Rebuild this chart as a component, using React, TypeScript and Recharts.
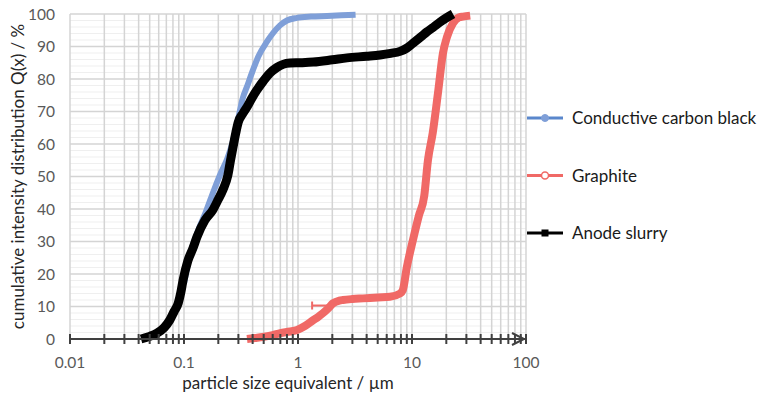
import React from 'react';
import { LineChart, Line, XAxis, YAxis, CartesianGrid, Legend } from 'recharts';

const xTicks = [
  0.01, 0.02, 0.03, 0.04, 0.05, 0.06, 0.07, 0.08, 0.09,
  0.1, 0.2, 0.3, 0.4, 0.5, 0.6, 0.7, 0.8, 0.9,
  1, 2, 3, 4, 5, 6, 7, 8, 9,
  10, 20, 30, 40, 50, 60, 70, 80, 90,
  100,
];
const yTicks = [0, 10, 20, 30, 40, 50, 60, 70, 80, 90, 100];
const yMinorTicks = [2, 4, 6, 8, 12, 14, 16, 18, 22, 24, 26, 28, 32, 34, 36, 38, 42, 44, 46, 48, 52, 54, 56, 58, 62, 64, 66, 68, 72, 74, 76, 78, 82, 84, 86, 88, 92, 94, 96, 98];

const seriesNames = ['Conductive carbon black', 'Graphite', 'Anode slurry'];

const carbonX = [0.1, 0.108, 0.12, 0.135, 0.155, 0.184, 0.21, 0.24, 0.269, 0.3, 0.324, 0.36, 0.403, 0.45, 0.534, 0.6, 0.695, 0.8, 0.98, 1.3, 1.8, 2.4, 3.2];
const carbonY = [17, 23, 29, 34, 39, 46, 51, 55.5, 61, 68, 73.5, 78, 82.8, 87, 91.5, 94, 96.5, 98, 98.8, 99.2, 99.4, 99.6, 99.8];

const graphiteX = [0.357, 0.42, 0.49, 0.6, 0.7, 0.85, 0.98, 1.15, 1.36, 1.5, 1.66, 1.85, 2.03, 2.3, 2.48, 3.0, 3.72, 5.0, 6.4, 7.86, 8.3, 9.0, 10.2, 11.5, 12.8, 13.8, 15.2, 16.9, 18.7, 20.3, 22.9, 26, 28, 32.4];
const graphiteY = [0, 0.3, 0.6, 1.2, 1.8, 2.3, 2.8, 4, 5.8, 6.8, 8, 9.5, 11, 11.8, 12, 12.3, 12.5, 12.8, 13, 14, 15, 22, 30.5, 38, 44, 55, 63.4, 75.7, 88, 93, 97.2, 99, 99.2, 99.5];

// horizontal error bar on the graphite curve
const graphiteErrX = [1.33, 1.8];
const graphiteErrY = [10.3, 10.3];

const slurryX = [0.042, 0.05, 0.058, 0.067, 0.075, 0.082, 0.089, 0.094, 0.098, 0.108, 0.12, 0.13, 0.153, 0.179, 0.2, 0.22, 0.243, 0.256, 0.269, 0.285, 0.298, 0.33, 0.357, 0.4, 0.436, 0.5, 0.567, 0.65, 0.74, 0.85, 1.04, 1.36, 2.0, 2.69, 4.0, 5.24, 6.5, 7.85, 9.0, 10.2, 12, 13.5, 15.5, 17.6, 20, 22.9];
const slurryY = [0, 0.8, 1.8, 3.5, 5.8, 8.5, 11, 14.5, 18, 24, 28, 31.4, 36.6, 39.7, 43, 46, 50.5, 55, 59, 63.5, 66.5, 69.5, 71.4, 74.5, 76.6, 79.5, 81.8, 83.5, 84.5, 84.9, 85, 85.2, 85.9, 86.5, 87, 87.4, 87.9, 88.5, 89.5, 91, 93, 94.5, 96, 97.5, 98.8, 100];

const toData = (xs: number[], ys: number[]) => xs.map((x, i) => ({ x, y: ys[i] }));
const carbonData = toData(carbonX, carbonY);
const graphiteData = toData(graphiteX, graphiteY);
const graphiteErrData = toData(graphiteErrX, graphiteErrY);
const slurryData = toData(slurryX, slurryY);

const FONT = 'Lato, "Open Sans", sans-serif';
const BLUE = '#7f9fd8';
const BLUE_LEGEND = '#5a87cc';
const RED = '#f06966';
const BLACK = '#000000';

function XTick(props: any) {
  const { x, y, payload } = props;
  const v = payload.value as number;
  const lg = Math.log10(v);
  const major = Math.abs(lg - Math.round(lg)) < 1e-6;
  const ay = y - 16;
  return (
    <g>
      <line x1={x} x2={x} y1={ay - 5} y2={ay + 5} stroke="#404040" strokeWidth={2} />
      {v === 100 && (
        <polyline points={`${x - 14},${ay - 6} ${x - 2},${ay} ${x - 14},${ay + 6}`} fill="none" stroke="#404040" strokeWidth={2} />
      )}
      {major && (
        <text x={x} y={y + 13} textAnchor="middle" fill="#595959" fontSize={15.5} fontFamily={FONT}>
          {String(v)}
        </text>
      )}
    </g>
  );
}

function ErrCap(props: any) {
  const { cx, cy, index } = props;
  if (index !== 0 || cx == null || cy == null) return <g key={`cap-${index}`} />;
  return <line key={`cap-${index}`} x1={cx} x2={cx} y1={cy - 4} y2={cy + 4} stroke={RED} strokeWidth={2} />;
}

const markerFor: Record<string, string> = {
  'Conductive carbon black': 'dot',
  Graphite: 'ring',
  'Anode slurry': 'square',
};
const legendLineColor: Record<string, string> = {
  'Conductive carbon black': BLUE_LEGEND,
  Graphite: RED,
  'Anode slurry': BLACK,
};

function renderLegend(props: any) {
  const payload = props.payload || [];
  const names = seriesNames.filter((n) => payload.length === 0 || payload.some((p: any) => String(p.value) === n));
  return (
    <svg width={236} height={160} style={{ display: 'block' }}>
      {names.map((name: string, i: number) => {
        const cy = 18 + i * 57.5;
        const m = markerFor[name];
        const lc = legendLineColor[name];
        return (
          <g key={name}>
            <line x1={0} x2={36} y1={cy} y2={cy} stroke={lc} strokeWidth={3} />
            {m === 'dot' && <circle cx={18} cy={cy} r={3.5} fill={BLUE} stroke={BLUE} />}
            {m === 'ring' && <circle cx={18} cy={cy} r={3.5} fill="#fff" stroke={RED} strokeWidth={1.5} />}
            {m === 'square' && <rect x={14.5} y={cy - 3.5} width={7} height={7} fill={BLACK} />}
            <text x={45} y={cy + 6} fontSize={17} fill="#1a1a1a" fontFamily={FONT}>
              {name}
            </text>
          </g>
        );
      })}
    </svg>
  );
}

export default function App() {
  return (
    <div style={{ position: 'absolute', left: 0, top: 0, width: 763, height: 395, background: '#fff' }}>
      <LineChart width={763} height={395} margin={{ top: 14, right: 237, bottom: 0, left: 0 }}>
        <CartesianGrid horizontalValues={yMinorTicks} vertical={false} stroke="#efefef" strokeWidth={1} />
        <CartesianGrid stroke="#d4d4d4" strokeWidth={1.5} />
        <XAxis
          dataKey="x"
          type="number"
          scale="log"
          domain={[0.01, 100]}
          ticks={xTicks}
          interval={0}
          allowDataOverflow
          tick={<XTick />}
          tickLine={false}
          tickSize={6}
          tickMargin={10}
          axisLine={{ stroke: '#404040', strokeWidth: 2 }}
          height={56}
          label={{
            value: 'particle size equivalent / µm',
            position: 'insideBottom',
            offset: 6,
            dx: -10,
            style: { fill: '#262626', fontSize: 17, fontFamily: FONT },
          }}
        />
        <YAxis
          type="number"
          domain={[0, 100]}
          ticks={yTicks}
          interval={0}
          axisLine={false}
          tickLine={false}
          width={70}
          tickSize={6}
          tickMargin={9}
          tick={{ fill: '#595959', fontSize: 15.5, fontFamily: FONT }}
          label={{
            value: 'cumulative intensity distribution Q(x) / %',
            angle: -90,
            position: 'insideLeft',
            offset: 18,
            style: { textAnchor: 'middle', fill: '#262626', fontSize: 17, fontFamily: FONT },
          }}
        />
        <Line data={carbonData} dataKey="y" name={seriesNames[0]} type="monotone" stroke={BLUE} strokeWidth={6} dot={false} isAnimationActive={false} strokeLinejoin="round" />
        <Line data={graphiteErrData} dataKey="y" name="graphite-error" legendType="none" type="linear" stroke={RED} strokeWidth={2} dot={<ErrCap />} activeDot={false} isAnimationActive={false} />
        <Line data={graphiteData} dataKey="y" name={seriesNames[1]} type="monotone" stroke={RED} strokeWidth={8} dot={false} isAnimationActive={false} strokeLinejoin="round" />
        <Line data={slurryData} dataKey="y" name={seriesNames[2]} type="monotone" stroke={BLACK} strokeWidth={9} dot={false} isAnimationActive={false} strokeLinejoin="round" />
        <Legend layout="vertical" align="center" verticalAlign="middle" wrapperStyle={{ left: 527, top: 100, width: 236 }} content={renderLegend} />
      </LineChart>
    </div>
  );
}
